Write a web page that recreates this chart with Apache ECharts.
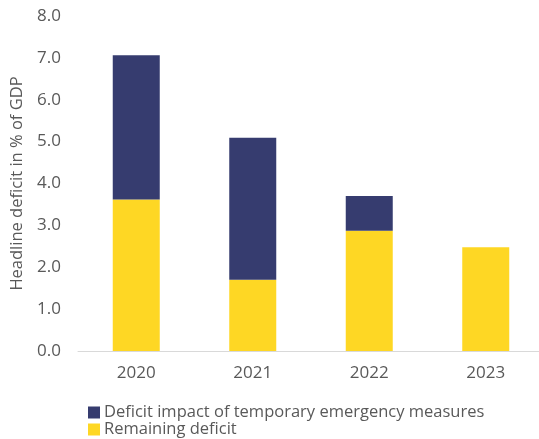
<!DOCTYPE html>
<html>
<head>
<meta charset="utf-8">
<script src="https://cdn.jsdelivr.net/npm/echarts@6/dist/echarts.min.js"></script>
<style>
html,body{margin:0;padding:0;background:#fff;}
#chart{width:539px;height:439px;}
</style>
</head>
<body>
<div id="chart"></div>
<script>
const years = ['2020', '2021', '2022', '2023'];
const remainingDeficit = [3.62, 1.70, 2.87, 2.48];
const emergencyImpact = [3.44, 3.39, 0.83, 0];
const yTicks = [0, 1, 2, 3, 4, 5, 6, 7, 8];
const legendNames = ['Deficit impact of temporary emergency measures', 'Remaining deficit'];

const FONT = 'Open Sans';
const TEXT = '#595959';

const legendBase = {
  left: 88,
  itemWidth: 12,
  itemHeight: 12,
  icon: 'rect',
  padding: 0,
  textStyle: { fontFamily: FONT, fontSize: 16.5, color: TEXT, padding: [0, 0, 0, -1] }
};

const chart = echarts.init(document.getElementById('chart'));
chart.setOption({
  animation: false,
  textStyle: { fontFamily: FONT },
  grid: { left: 78, top: 16, width: 466, height: 335, outerBoundsMode: 'none', containLabel: false },
  legend: [
    Object.assign({}, legendBase, { top: 404, data: [legendNames[0]] }),
    Object.assign({}, legendBase, { top: 421, data: [legendNames[1]] })
  ],
  xAxis: {
    type: 'category',
    data: years,
    axisLine: { lineStyle: { color: '#d9d9d9', width: 1 } },
    axisTick: { show: false },
    axisLabel: { color: TEXT, fontSize: 17, margin: 14 }
  },
  yAxis: {
    type: 'value',
    min: yTicks[0],
    max: yTicks[yTicks.length - 1],
    interval: 1,
    name: 'Headline deficit in % of GDP',
    nameLocation: 'middle',
    nameGap: 50,
    nameTextStyle: { color: TEXT, fontSize: 16.5 },
    axisLine: { show: false },
    axisTick: { show: false },
    splitLine: { show: false },
    axisLabel: {
      color: TEXT,
      fontSize: 17,
      margin: 17,
      formatter: v => v.toFixed(1)
    }
  },
  series: [
    {
      name: legendNames[1],
      type: 'bar',
      stack: 'deficit',
      barWidth: 47,
      data: remainingDeficit,
      itemStyle: { color: '#FED724' }
    },
    {
      name: legendNames[0],
      type: 'bar',
      stack: 'deficit',
      barWidth: 47,
      data: emergencyImpact,
      itemStyle: { color: '#363C6F' }
    }
  ]
});
</script>
</body>
</html>
